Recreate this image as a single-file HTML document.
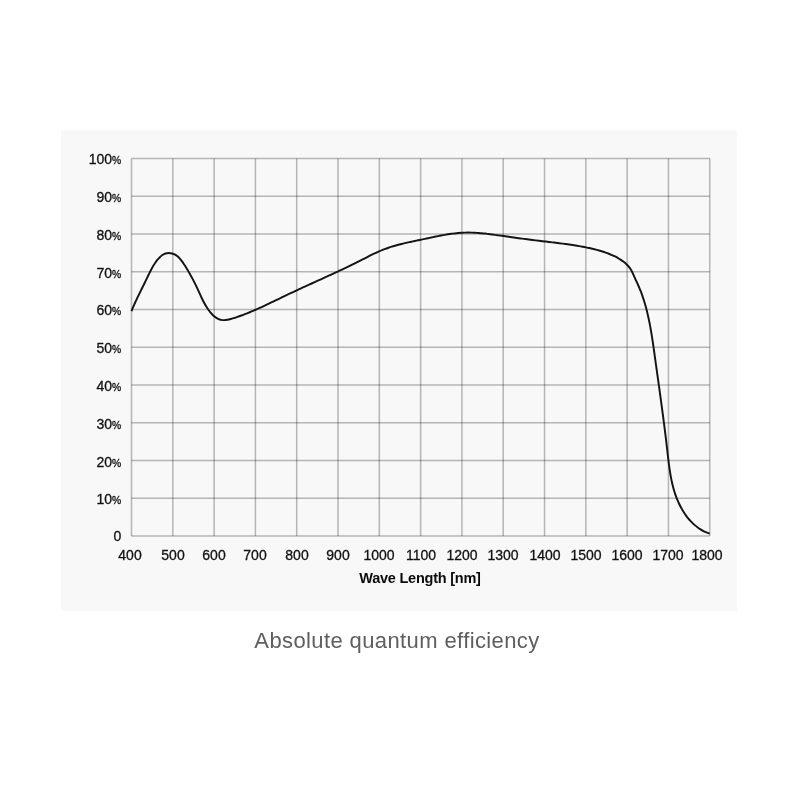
<!DOCTYPE html>
<html><head><meta charset="utf-8"><title>Absolute quantum efficiency</title>
<style>
html,body{margin:0;padding:0;background:#fff;}
body{width:800px;height:800px;position:relative;overflow:hidden;font-family:"Liberation Sans",sans-serif;}
#panel{position:absolute;left:61.3px;top:129.8px;width:676px;height:480.8px;background:#f8f8f8;}
svg{position:absolute;left:0;top:0;}
.grid line{stroke:rgba(0,0,0,0.27);stroke-width:1.5;}
.yl,.xl,#xt,#cap{will-change:transform;}
.yl,.xl{-webkit-text-stroke:0.3px #111;}
.yl{position:absolute;left:60px;width:61.2px;height:20px;line-height:20px;text-align:right;font-size:14px;color:#111;white-space:nowrap;}
.yl .pc{font-size:10.3px;}
.xl{position:absolute;top:545px;width:60px;height:20px;line-height:20px;text-align:center;font-size:14px;color:#111;}
#xt{position:absolute;left:320px;width:200px;top:568px;height:20px;line-height:20px;text-align:center;font-weight:bold;font-size:14.5px;letter-spacing:-0.23px;color:#0a0a0a;}
#cap{position:absolute;left:196.6px;width:400px;top:628.2px;height:26px;line-height:26px;text-align:center;font-size:22px;letter-spacing:0.39px;color:#5e5e5e;white-space:nowrap;}
</style></head><body>
<div id="panel"></div>
<svg width="800" height="800" viewBox="0 0 800 800">
<g class="grid">
<line x1="131.50" y1="158.40" x2="131.50" y2="536.10"/>
<line x1="172.80" y1="158.40" x2="172.80" y2="536.10"/>
<line x1="214.11" y1="158.40" x2="214.11" y2="536.10"/>
<line x1="255.41" y1="158.40" x2="255.41" y2="536.10"/>
<line x1="296.71" y1="158.40" x2="296.71" y2="536.10"/>
<line x1="338.02" y1="158.40" x2="338.02" y2="536.10"/>
<line x1="379.32" y1="158.40" x2="379.32" y2="536.10"/>
<line x1="420.62" y1="158.40" x2="420.62" y2="536.10"/>
<line x1="461.93" y1="158.40" x2="461.93" y2="536.10"/>
<line x1="503.23" y1="158.40" x2="503.23" y2="536.10"/>
<line x1="544.54" y1="158.40" x2="544.54" y2="536.10"/>
<line x1="585.84" y1="158.40" x2="585.84" y2="536.10"/>
<line x1="627.14" y1="158.40" x2="627.14" y2="536.10"/>
<line x1="668.45" y1="158.40" x2="668.45" y2="536.10"/>
<line x1="709.75" y1="158.40" x2="709.75" y2="536.10"/>
<line x1="131.50" y1="158.40" x2="709.75" y2="158.40"/>
<line x1="131.50" y1="196.17" x2="709.75" y2="196.17"/>
<line x1="131.50" y1="233.94" x2="709.75" y2="233.94"/>
<line x1="131.50" y1="271.71" x2="709.75" y2="271.71"/>
<line x1="131.50" y1="309.48" x2="709.75" y2="309.48"/>
<line x1="131.50" y1="347.25" x2="709.75" y2="347.25"/>
<line x1="131.50" y1="385.02" x2="709.75" y2="385.02"/>
<line x1="131.50" y1="422.79" x2="709.75" y2="422.79"/>
<line x1="131.50" y1="460.56" x2="709.75" y2="460.56"/>
<line x1="131.50" y1="498.33" x2="709.75" y2="498.33"/>
<line x1="131.50" y1="536.10" x2="709.75" y2="536.10"/>
</g>
<path d="M131.50 311.10C131.72 310.57 132.35 308.99 132.79 307.94C133.23 306.90 133.68 305.86 134.14 304.82C134.59 303.79 135.06 302.76 135.53 301.73C136.00 300.70 136.47 299.68 136.95 298.66C137.43 297.64 137.92 296.62 138.41 295.61C138.90 294.59 139.39 293.58 139.89 292.57C140.38 291.56 140.88 290.55 141.38 289.54C141.88 288.53 142.38 287.52 142.88 286.51C143.38 285.50 143.89 284.49 144.38 283.47C144.88 282.46 145.38 281.45 145.88 280.43C146.37 279.41 146.87 278.39 147.36 277.37C147.85 276.35 148.33 275.32 148.83 274.30C149.33 273.28 149.82 272.26 150.33 271.25C150.85 270.23 151.37 269.23 151.91 268.23C152.46 267.24 153.02 266.26 153.61 265.29C154.20 264.33 154.82 263.38 155.47 262.45C156.12 261.53 156.80 260.62 157.53 259.74C158.26 258.87 159.03 257.99 159.85 257.19C160.67 256.40 161.53 255.59 162.46 254.97C163.39 254.35 164.38 253.81 165.42 253.48C166.46 253.15 167.60 253.01 168.70 253.00C169.80 253.00 170.96 253.18 172.01 253.46C173.07 253.74 174.09 254.18 175.04 254.70C175.99 255.22 176.87 255.87 177.71 256.58C178.55 257.29 179.33 258.11 180.08 258.95C180.83 259.80 181.54 260.73 182.23 261.67C182.91 262.60 183.56 263.60 184.20 264.57C184.85 265.55 185.47 266.55 186.08 267.54C186.69 268.52 187.29 269.51 187.88 270.50C188.47 271.49 189.04 272.47 189.61 273.46C190.17 274.45 190.72 275.44 191.27 276.43C191.81 277.42 192.34 278.41 192.86 279.40C193.39 280.40 193.90 281.39 194.40 282.39C194.91 283.38 195.40 284.38 195.89 285.38C196.37 286.38 196.85 287.38 197.32 288.39C197.79 289.39 198.25 290.40 198.71 291.41C199.17 292.42 199.62 293.44 200.08 294.45C200.54 295.46 201.00 296.48 201.48 297.49C201.96 298.50 202.44 299.52 202.94 300.53C203.45 301.54 203.97 302.54 204.53 303.55C205.08 304.55 205.65 305.55 206.27 306.55C206.88 307.54 207.53 308.54 208.21 309.51C208.90 310.48 209.62 311.45 210.37 312.35C211.13 313.25 211.92 314.13 212.75 314.93C213.57 315.73 214.43 316.48 215.32 317.13C216.21 317.77 217.13 318.35 218.09 318.80C219.04 319.25 220.03 319.61 221.04 319.83C222.06 320.05 223.11 320.12 224.17 320.12C225.24 320.12 226.33 319.98 227.43 319.80C228.52 319.63 229.64 319.35 230.75 319.06C231.87 318.76 232.99 318.40 234.10 318.05C235.21 317.69 236.32 317.31 237.42 316.93C238.52 316.55 239.61 316.17 240.69 315.77C241.78 315.37 242.86 314.97 243.93 314.56C245.00 314.15 246.07 313.73 247.13 313.31C248.19 312.88 249.25 312.45 250.30 312.01C251.35 311.58 252.39 311.13 253.44 310.69C254.48 310.24 255.51 309.78 256.55 309.33C257.58 308.87 258.61 308.41 259.64 307.94C260.67 307.48 261.69 307.01 262.71 306.53C263.73 306.06 264.75 305.58 265.77 305.10C266.79 304.62 267.80 304.14 268.81 303.66C269.83 303.18 270.84 302.69 271.85 302.20C272.86 301.72 273.87 301.23 274.88 300.74C275.89 300.25 276.90 299.76 277.91 299.28C278.92 298.79 279.93 298.30 280.94 297.81C281.95 297.32 282.97 296.83 283.98 296.35C284.99 295.86 286.01 295.38 287.02 294.90C288.04 294.41 289.06 293.93 290.08 293.45C291.10 292.97 292.12 292.49 293.14 292.02C294.16 291.54 295.18 291.06 296.21 290.59C297.23 290.11 298.26 289.64 299.28 289.16C300.31 288.69 301.33 288.22 302.36 287.74C303.39 287.27 304.42 286.80 305.45 286.33C306.48 285.86 307.51 285.39 308.54 284.92C309.57 284.45 310.60 283.98 311.63 283.51C312.66 283.04 313.69 282.57 314.72 282.10C315.75 281.63 316.79 281.16 317.82 280.69C318.85 280.22 319.88 279.75 320.91 279.28C321.95 278.81 322.98 278.33 324.01 277.86C325.04 277.39 326.07 276.92 327.10 276.45C328.13 275.97 329.16 275.50 330.19 275.02C331.23 274.55 332.26 274.07 333.28 273.60C334.31 273.12 335.34 272.64 336.37 272.16C337.40 271.69 338.42 271.20 339.45 270.72C340.48 270.24 341.50 269.76 342.53 269.27C343.55 268.79 344.57 268.30 345.60 267.81C346.62 267.33 347.64 266.84 348.66 266.34C349.68 265.85 350.70 265.36 351.71 264.86C352.73 264.37 353.74 263.87 354.76 263.37C355.77 262.87 356.78 262.37 357.79 261.86C358.80 261.36 359.81 260.85 360.82 260.34C361.83 259.83 362.83 259.32 363.84 258.80C364.84 258.29 365.84 257.77 366.85 257.26C367.85 256.75 368.85 256.24 369.86 255.74C370.87 255.23 371.87 254.73 372.89 254.24C373.90 253.75 374.91 253.26 375.93 252.79C376.95 252.31 377.98 251.84 379.01 251.39C380.04 250.94 381.07 250.50 382.12 250.07C383.16 249.65 384.21 249.24 385.27 248.85C386.33 248.45 387.40 248.08 388.47 247.71C389.54 247.35 390.62 247.00 391.71 246.67C392.79 246.33 393.88 246.01 394.97 245.70C396.07 245.39 397.16 245.09 398.26 244.80C399.36 244.51 400.46 244.23 401.56 243.96C402.66 243.69 403.77 243.43 404.87 243.17C405.97 242.91 407.07 242.67 408.18 242.42C409.28 242.18 410.38 241.94 411.48 241.71C412.58 241.47 413.69 241.24 414.79 241.01C415.89 240.78 416.99 240.55 418.09 240.32C419.20 240.09 420.30 239.86 421.40 239.62C422.51 239.39 423.61 239.15 424.71 238.91C425.82 238.67 426.92 238.43 428.03 238.20C429.13 237.96 430.24 237.72 431.35 237.49C432.46 237.25 433.56 237.02 434.67 236.79C435.78 236.56 436.89 236.33 438.00 236.11C439.11 235.89 440.23 235.68 441.34 235.47C442.45 235.26 443.57 235.06 444.69 234.87C445.80 234.68 446.92 234.50 448.04 234.32C449.16 234.15 450.28 233.99 451.40 233.83C452.52 233.68 453.65 233.54 454.77 233.41C455.89 233.29 457.02 233.17 458.14 233.07C459.26 232.97 460.39 232.88 461.51 232.81C462.64 232.74 463.77 232.68 464.89 232.65C466.02 232.61 467.14 232.59 468.27 232.58C469.39 232.58 470.52 232.59 471.64 232.62C472.77 232.65 473.89 232.70 475.02 232.75C476.14 232.81 477.27 232.88 478.39 232.96C479.51 233.05 480.64 233.14 481.76 233.25C482.89 233.35 484.01 233.47 485.13 233.59C486.26 233.71 487.38 233.85 488.50 233.98C489.63 234.12 490.75 234.27 491.88 234.42C493.00 234.57 494.12 234.72 495.24 234.88C496.37 235.03 497.49 235.20 498.61 235.36C499.74 235.52 500.86 235.68 501.98 235.84C503.10 236.00 504.22 236.16 505.35 236.32C506.47 236.48 507.59 236.64 508.71 236.80C509.83 236.96 510.96 237.12 512.08 237.27C513.20 237.43 514.32 237.58 515.44 237.73C516.56 237.89 517.69 238.04 518.81 238.19C519.93 238.34 521.05 238.49 522.17 238.64C523.29 238.79 524.41 238.93 525.53 239.08C526.65 239.23 527.78 239.37 528.90 239.51C530.02 239.66 531.14 239.80 532.26 239.94C533.38 240.08 534.50 240.22 535.62 240.36C536.74 240.50 537.86 240.64 538.98 240.78C540.10 240.91 541.22 241.05 542.34 241.18C543.47 241.32 544.59 241.45 545.71 241.58C546.83 241.72 547.95 241.85 549.07 241.98C550.19 242.11 551.31 242.24 552.43 242.37C553.55 242.50 554.67 242.64 555.79 242.77C556.91 242.91 558.03 243.04 559.15 243.18C560.27 243.32 561.39 243.46 562.50 243.60C563.62 243.74 564.74 243.89 565.86 244.04C566.97 244.19 568.09 244.35 569.21 244.51C570.32 244.67 571.44 244.83 572.55 245.00C573.67 245.17 574.78 245.34 575.90 245.52C577.01 245.71 578.12 245.89 579.23 246.09C580.35 246.28 581.46 246.49 582.57 246.70C583.68 246.91 584.79 247.12 585.89 247.35C587.00 247.58 588.11 247.81 589.21 248.06C590.32 248.30 591.42 248.56 592.53 248.82C593.63 249.09 594.73 249.36 595.83 249.65C596.93 249.94 598.03 250.23 599.13 250.55C600.23 250.86 601.32 251.18 602.41 251.52C603.50 251.86 604.59 252.21 605.66 252.58C606.74 252.95 607.81 253.34 608.87 253.76C609.92 254.17 610.97 254.60 612.01 255.05C613.04 255.51 614.07 255.99 615.07 256.49C616.07 257.00 617.07 257.53 618.04 258.09C619.01 258.65 619.96 259.24 620.89 259.86C621.82 260.48 622.74 261.13 623.62 261.81C624.51 262.50 625.37 263.22 626.19 263.98C627.00 264.75 627.79 265.54 628.51 266.40C629.23 267.25 629.90 268.15 630.51 269.09C631.12 270.04 631.65 271.05 632.16 272.06C632.68 273.08 633.14 274.14 633.61 275.18C634.09 276.23 634.54 277.28 635.01 278.32C635.49 279.36 635.97 280.39 636.44 281.42C636.92 282.44 637.40 283.46 637.86 284.49C638.32 285.52 638.78 286.55 639.22 287.58C639.66 288.62 640.09 289.66 640.50 290.71C640.92 291.76 641.32 292.81 641.70 293.87C642.09 294.93 642.46 296.00 642.83 297.07C643.19 298.14 643.54 299.21 643.88 300.29C644.22 301.37 644.54 302.45 644.86 303.54C645.18 304.62 645.48 305.71 645.78 306.80C646.08 307.89 646.37 308.98 646.65 310.07C646.93 311.17 647.20 312.26 647.46 313.36C647.72 314.46 647.97 315.56 648.22 316.66C648.46 317.77 648.70 318.87 648.93 319.98C649.17 321.08 649.39 322.19 649.61 323.30C649.82 324.41 650.04 325.52 650.24 326.63C650.45 327.75 650.65 328.86 650.84 329.97C651.04 331.09 651.23 332.20 651.41 333.32C651.60 334.44 651.78 335.55 651.96 336.67C652.13 337.79 652.31 338.91 652.48 340.03C652.65 341.15 652.82 342.27 652.98 343.39C653.15 344.51 653.31 345.63 653.47 346.75C653.63 347.87 653.79 349.00 653.94 350.12C654.10 351.24 654.26 352.36 654.41 353.48C654.57 354.60 654.72 355.72 654.88 356.85C655.03 357.97 655.19 359.09 655.35 360.21C655.50 361.33 655.66 362.45 655.81 363.57C655.97 364.69 656.12 365.81 656.28 366.92C656.44 368.04 656.59 369.16 656.75 370.28C656.91 371.40 657.06 372.52 657.22 373.64C657.37 374.75 657.53 375.87 657.69 376.99C657.84 378.11 658.00 379.22 658.16 380.34C658.31 381.46 658.47 382.58 658.62 383.69C658.78 384.81 658.94 385.93 659.09 387.04C659.25 388.16 659.40 389.28 659.56 390.40C659.71 391.51 659.87 392.63 660.02 393.75C660.17 394.86 660.33 395.98 660.48 397.10C660.64 398.21 660.79 399.33 660.94 400.45C661.09 401.57 661.25 402.68 661.40 403.80C661.55 404.92 661.70 406.04 661.85 407.15C662.00 408.27 662.15 409.39 662.30 410.51C662.45 411.63 662.60 412.75 662.75 413.86C662.90 414.98 663.05 416.10 663.19 417.22C663.34 418.34 663.49 419.46 663.63 420.58C663.78 421.70 663.92 422.82 664.07 423.94C664.21 425.06 664.36 426.18 664.50 427.31C664.64 428.43 664.78 429.55 664.92 430.67C665.06 431.79 665.20 432.92 665.34 434.04C665.48 435.16 665.62 436.29 665.75 437.41C665.89 438.54 666.03 439.66 666.16 440.79C666.30 441.91 666.43 443.04 666.56 444.17C666.69 445.29 666.82 446.42 666.95 447.55C667.08 448.68 667.21 449.81 667.34 450.93C667.47 452.06 667.60 453.19 667.72 454.32C667.85 455.45 667.98 456.58 668.11 457.71C668.25 458.84 668.38 459.97 668.52 461.10C668.65 462.23 668.79 463.35 668.94 464.48C669.09 465.60 669.24 466.73 669.40 467.85C669.56 468.97 669.72 470.09 669.89 471.21C670.07 472.33 670.25 473.44 670.44 474.55C670.63 475.66 670.83 476.77 671.04 477.88C671.26 478.99 671.48 480.09 671.71 481.19C671.95 482.29 672.20 483.38 672.46 484.47C672.72 485.56 672.99 486.65 673.29 487.73C673.58 488.81 673.88 489.89 674.21 490.96C674.53 492.03 674.87 493.09 675.23 494.15C675.59 495.21 675.96 496.27 676.36 497.31C676.76 498.36 677.17 499.40 677.61 500.44C678.05 501.47 678.51 502.50 678.99 503.52C679.47 504.54 679.97 505.56 680.50 506.56C681.03 507.57 681.58 508.57 682.16 509.55C682.73 510.54 683.33 511.52 683.96 512.48C684.58 513.43 685.23 514.38 685.90 515.31C686.57 516.24 687.26 517.15 687.98 518.04C688.70 518.93 689.44 519.80 690.21 520.64C690.97 521.48 691.76 522.30 692.57 523.09C693.39 523.88 694.22 524.65 695.08 525.38C695.94 526.11 696.82 526.81 697.73 527.48C698.63 528.14 699.56 528.77 700.51 529.37C701.46 529.96 702.44 530.52 703.44 531.03C704.44 531.54 705.46 532.02 706.50 532.45C707.54 532.88 709.17 533.41 709.70 533.60" fill="none" stroke="#141414" stroke-width="1.95" stroke-linecap="butt" stroke-linejoin="round"/>
</svg>
<div class="yl" style="top:149.40px">100<span class="pc">%</span></div>
<div class="yl" style="top:187.17px">90<span class="pc">%</span></div>
<div class="yl" style="top:224.94px">80<span class="pc">%</span></div>
<div class="yl" style="top:262.71px">70<span class="pc">%</span></div>
<div class="yl" style="top:300.48px">60<span class="pc">%</span></div>
<div class="yl" style="top:338.25px">50<span class="pc">%</span></div>
<div class="yl" style="top:376.02px">40<span class="pc">%</span></div>
<div class="yl" style="top:413.79px">30<span class="pc">%</span></div>
<div class="yl" style="top:451.56px">20<span class="pc">%</span></div>
<div class="yl" style="top:489.33px">10<span class="pc">%</span></div>
<div class="yl" style="top:525.70px">0</div>
<div class="xl" style="left:100.30px">400</div>
<div class="xl" style="left:142.80px">500</div>
<div class="xl" style="left:184.11px">600</div>
<div class="xl" style="left:225.41px">700</div>
<div class="xl" style="left:266.71px">800</div>
<div class="xl" style="left:308.02px">900</div>
<div class="xl" style="left:349.32px">1000</div>
<div class="xl" style="left:390.62px">1100</div>
<div class="xl" style="left:431.93px">1200</div>
<div class="xl" style="left:473.23px">1300</div>
<div class="xl" style="left:514.54px">1400</div>
<div class="xl" style="left:555.84px">1500</div>
<div class="xl" style="left:597.14px">1600</div>
<div class="xl" style="left:638.45px">1700</div>
<div class="xl" style="left:676.75px">1800</div>
<div id="xt">Wave Length [nm]</div>
<div id="cap">Absolute quantum efficiency</div>
</body></html>
